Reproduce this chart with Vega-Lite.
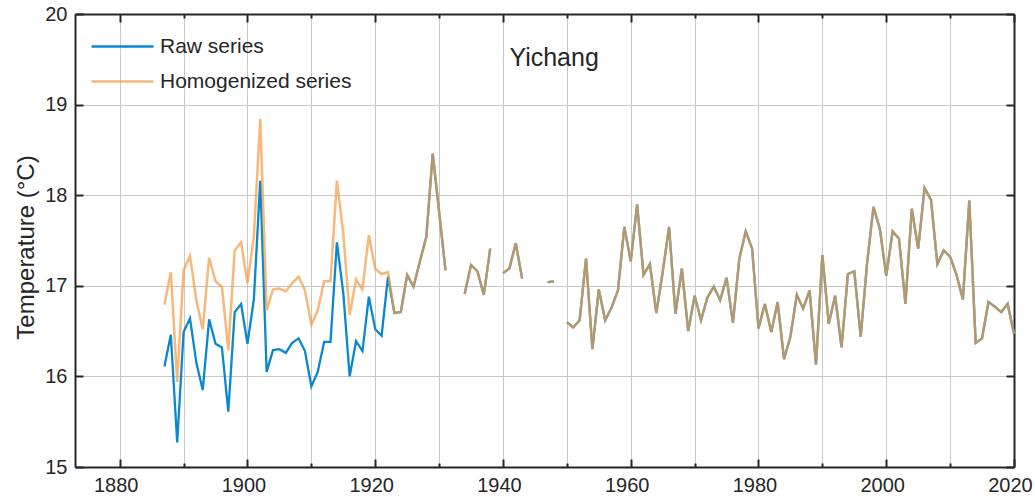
{
  "$schema": "https://vega.github.io/schema/vega-lite/v6.json",
  "width": 939,
  "height": 453,
  "autosize": {"type": "none"},
  "padding": {"left": 75, "top": 14, "right": 21, "bottom": 30},
  "background": "white",
  "config": {
    "font": "Liberation Sans",
    "view": {"stroke": null},
    "axis": {
      "domainColor": "#262626",
      "domainWidth": 2,
      "tickColor": "#262626",
      "tickWidth": 2,
      "gridColor": "#c8c8c8",
      "gridWidth": 1,
      "labelColor": "#262626",
      "labelFontSize": 20,
      "titleColor": "#262626",
      "titleFontWeight": "normal"
    },
    "legend": {
      "orient": "none",
      "legendX": 15,
      "legendY": 17,
      "title": null,
      "padding": 0,
      "symbolType": "stroke",
      "symbolSize": 3844,
      "symbolStrokeWidth": 2.3,
      "labelFontSize": 21,
      "labelColor": "#262626",
      "labelOffset": 5,
      "labelLimit": 400,
      "clipHeight": 31,
      "rowPadding": 4
    }
  },
  "datasets": {
    "annual": [
      {"year": 1887, "raw": 16.11, "homogenized": 16.79},
      {"year": 1888, "raw": 16.46, "homogenized": 17.15},
      {"year": 1889, "raw": 15.27, "homogenized": 15.94},
      {"year": 1890, "raw": 16.49, "homogenized": 17.17},
      {"year": 1891, "raw": 16.64, "homogenized": 17.33},
      {"year": 1892, "raw": 16.15, "homogenized": 16.84},
      {"year": 1893, "raw": 15.85, "homogenized": 16.52},
      {"year": 1894, "raw": 16.63, "homogenized": 17.31},
      {"year": 1895, "raw": 16.36, "homogenized": 17.05},
      {"year": 1896, "raw": 16.32, "homogenized": 16.99},
      {"year": 1897, "raw": 15.61, "homogenized": 16.29},
      {"year": 1898, "raw": 16.71, "homogenized": 17.39},
      {"year": 1899, "raw": 16.80, "homogenized": 17.48},
      {"year": 1900, "raw": 16.36, "homogenized": 17.03},
      {"year": 1901, "raw": 16.85, "homogenized": 17.54},
      {"year": 1902, "raw": 18.16, "homogenized": 18.84},
      {"year": 1903, "raw": 16.05, "homogenized": 16.73},
      {"year": 1904, "raw": 16.29, "homogenized": 16.96},
      {"year": 1905, "raw": 16.30, "homogenized": 16.97},
      {"year": 1906, "raw": 16.26, "homogenized": 16.94},
      {"year": 1907, "raw": 16.37, "homogenized": 17.03},
      {"year": 1908, "raw": 16.42, "homogenized": 17.10},
      {"year": 1909, "raw": 16.28, "homogenized": 16.95},
      {"year": 1910, "raw": 15.89, "homogenized": 16.57},
      {"year": 1911, "raw": 16.05, "homogenized": 16.73},
      {"year": 1912, "raw": 16.38, "homogenized": 17.05},
      {"year": 1913, "raw": 16.38, "homogenized": 17.05},
      {"year": 1914, "raw": 17.48, "homogenized": 18.16},
      {"year": 1915, "raw": 16.92, "homogenized": 17.58},
      {"year": 1916, "raw": 16.00, "homogenized": 16.68},
      {"year": 1917, "raw": 16.39, "homogenized": 17.07},
      {"year": 1918, "raw": 16.28, "homogenized": 16.96},
      {"year": 1919, "raw": 16.88, "homogenized": 17.56},
      {"year": 1920, "raw": 16.52, "homogenized": 17.19},
      {"year": 1921, "raw": 16.45, "homogenized": 17.13},
      {"year": 1922, "raw": 17.10, "homogenized": 17.15},
      {"year": 1923, "raw": 16.70, "homogenized": 16.70},
      {"year": 1924, "raw": 16.71, "homogenized": 16.71},
      {"year": 1925, "raw": 17.12, "homogenized": 17.12},
      {"year": 1926, "raw": 16.99, "homogenized": 16.99},
      {"year": 1927, "raw": 17.27, "homogenized": 17.27},
      {"year": 1928, "raw": 17.54, "homogenized": 17.54},
      {"year": 1929, "raw": 18.46, "homogenized": 18.46},
      {"year": 1930, "raw": 17.82, "homogenized": 17.82},
      {"year": 1931, "raw": 17.17, "homogenized": 17.17},
      {"year": 1932, "raw": null, "homogenized": null},
      {"year": 1933, "raw": null, "homogenized": null},
      {"year": 1934, "raw": 16.91, "homogenized": 16.91},
      {"year": 1935, "raw": 17.23, "homogenized": 17.23},
      {"year": 1936, "raw": 17.16, "homogenized": 17.16},
      {"year": 1937, "raw": 16.90, "homogenized": 16.90},
      {"year": 1938, "raw": 17.41, "homogenized": 17.41},
      {"year": 1939, "raw": null, "homogenized": null},
      {"year": 1940, "raw": 17.14, "homogenized": 17.14},
      {"year": 1941, "raw": 17.19, "homogenized": 17.19},
      {"year": 1942, "raw": 17.47, "homogenized": 17.47},
      {"year": 1943, "raw": 17.08, "homogenized": 17.08},
      {"year": 1944, "raw": null, "homogenized": null},
      {"year": 1945, "raw": null, "homogenized": null},
      {"year": 1946, "raw": null, "homogenized": null},
      {"year": 1947, "raw": 17.04, "homogenized": 17.04},
      {"year": 1948, "raw": 17.05, "homogenized": 17.05},
      {"year": 1949, "raw": null, "homogenized": null},
      {"year": 1950, "raw": 16.60, "homogenized": 16.60},
      {"year": 1951, "raw": 16.54, "homogenized": 16.54},
      {"year": 1952, "raw": 16.62, "homogenized": 16.62},
      {"year": 1953, "raw": 17.30, "homogenized": 17.30},
      {"year": 1954, "raw": 16.30, "homogenized": 16.30},
      {"year": 1955, "raw": 16.96, "homogenized": 16.96},
      {"year": 1956, "raw": 16.62, "homogenized": 16.62},
      {"year": 1957, "raw": 16.76, "homogenized": 16.76},
      {"year": 1958, "raw": 16.95, "homogenized": 16.95},
      {"year": 1959, "raw": 17.65, "homogenized": 17.65},
      {"year": 1960, "raw": 17.27, "homogenized": 17.27},
      {"year": 1961, "raw": 17.90, "homogenized": 17.90},
      {"year": 1962, "raw": 17.12, "homogenized": 17.12},
      {"year": 1963, "raw": 17.24, "homogenized": 17.24},
      {"year": 1964, "raw": 16.70, "homogenized": 16.70},
      {"year": 1965, "raw": 17.15, "homogenized": 17.15},
      {"year": 1966, "raw": 17.65, "homogenized": 17.65},
      {"year": 1967, "raw": 16.69, "homogenized": 16.69},
      {"year": 1968, "raw": 17.19, "homogenized": 17.19},
      {"year": 1969, "raw": 16.50, "homogenized": 16.50},
      {"year": 1970, "raw": 16.89, "homogenized": 16.89},
      {"year": 1971, "raw": 16.62, "homogenized": 16.62},
      {"year": 1972, "raw": 16.87, "homogenized": 16.87},
      {"year": 1973, "raw": 16.99, "homogenized": 16.99},
      {"year": 1974, "raw": 16.84, "homogenized": 16.84},
      {"year": 1975, "raw": 17.09, "homogenized": 17.09},
      {"year": 1976, "raw": 16.59, "homogenized": 16.59},
      {"year": 1977, "raw": 17.30, "homogenized": 17.30},
      {"year": 1978, "raw": 17.60, "homogenized": 17.60},
      {"year": 1979, "raw": 17.41, "homogenized": 17.41},
      {"year": 1980, "raw": 16.53, "homogenized": 16.53},
      {"year": 1981, "raw": 16.80, "homogenized": 16.80},
      {"year": 1982, "raw": 16.49, "homogenized": 16.49},
      {"year": 1983, "raw": 16.82, "homogenized": 16.82},
      {"year": 1984, "raw": 16.19, "homogenized": 16.19},
      {"year": 1985, "raw": 16.44, "homogenized": 16.44},
      {"year": 1986, "raw": 16.90, "homogenized": 16.90},
      {"year": 1987, "raw": 16.75, "homogenized": 16.75},
      {"year": 1988, "raw": 16.95, "homogenized": 16.95},
      {"year": 1989, "raw": 16.13, "homogenized": 16.13},
      {"year": 1990, "raw": 17.34, "homogenized": 17.34},
      {"year": 1991, "raw": 16.58, "homogenized": 16.58},
      {"year": 1992, "raw": 16.89, "homogenized": 16.89},
      {"year": 1993, "raw": 16.32, "homogenized": 16.32},
      {"year": 1994, "raw": 17.13, "homogenized": 17.13},
      {"year": 1995, "raw": 17.16, "homogenized": 17.16},
      {"year": 1996, "raw": 16.44, "homogenized": 16.44},
      {"year": 1997, "raw": 17.25, "homogenized": 17.25},
      {"year": 1998, "raw": 17.87, "homogenized": 17.87},
      {"year": 1999, "raw": 17.63, "homogenized": 17.63},
      {"year": 2000, "raw": 17.11, "homogenized": 17.11},
      {"year": 2001, "raw": 17.60, "homogenized": 17.60},
      {"year": 2002, "raw": 17.52, "homogenized": 17.52},
      {"year": 2003, "raw": 16.80, "homogenized": 16.80},
      {"year": 2004, "raw": 17.85, "homogenized": 17.85},
      {"year": 2005, "raw": 17.41, "homogenized": 17.41},
      {"year": 2006, "raw": 18.08, "homogenized": 18.08},
      {"year": 2007, "raw": 17.95, "homogenized": 17.95},
      {"year": 2008, "raw": 17.24, "homogenized": 17.24},
      {"year": 2009, "raw": 17.39, "homogenized": 17.39},
      {"year": 2010, "raw": 17.32, "homogenized": 17.32},
      {"year": 2011, "raw": 17.12, "homogenized": 17.12},
      {"year": 2012, "raw": 16.85, "homogenized": 16.85},
      {"year": 2013, "raw": 17.94, "homogenized": 17.94},
      {"year": 2014, "raw": 16.37, "homogenized": 16.37},
      {"year": 2015, "raw": 16.42, "homogenized": 16.42},
      {"year": 2016, "raw": 16.82, "homogenized": 16.82},
      {"year": 2017, "raw": 16.77, "homogenized": 16.77},
      {"year": 2018, "raw": 16.71, "homogenized": 16.71},
      {"year": 2019, "raw": 16.80, "homogenized": 16.80},
      {"year": 2020, "raw": 16.47, "homogenized": 16.47}
    ],
    "station": [{"name": "Yichang"}]
  },
  "layer": [
    {
      "data": {"name": "annual"},
      "transform": [
        {"fold": ["raw", "homogenized"], "as": ["series", "temp"]},
        {"filter": "datum.series === 'raw'"}
      ],
      "mark": {"type": "line", "strokeWidth": 2.3},
      "encoding": {
        "x": {
          "field": "year",
          "type": "quantitative",
          "scale": {"domain": [1873, 2020], "nice": false, "zero": false},
          "axis": {
            "orient": "bottom",
            "title": null,
            "values": [1880, 1890, 1900, 1910, 1920, 1930, 1940, 1950, 1960, 1970, 1980, 1990, 2000, 2010, 2020],
            "format": "d",
            "labelExpr": "datum.value % 20 === 0 ? datum.label : ''",
            "tickSize": {"condition": {"test": "datum.value % 20 === 0", "value": -8}, "value": -4},
            "labelPadding": 16,
            "labelOffset": -4,
            "labelFlush": false,
            "grid": true
          }
        },
        "y": {
          "field": "temp",
          "type": "quantitative",
          "scale": {"domain": [15, 20], "nice": false, "zero": false},
          "axis": {
            "orient": "left",
            "title": "Temperature (°C)",
            "titleFontSize": 24,
            "titleX": -37,
            "titleY": 233,
            "titleAngle": -90,
            "titleAlign": "center",
            "titleBaseline": "bottom",
            "values": [15, 16, 17, 18, 19, 20],
            "tickSize": -8,
            "labelPadding": 16,
            "labelFlush": false,
            "grid": true
          }
        },
        "color": {
          "field": "series",
          "type": "nominal",
          "scale": {"domain": ["raw", "homogenized"], "range": ["#0a88cf", "#f29e48"]},
          "legend": {"labelExpr": "datum.label === 'raw' ? 'Raw series' : 'Homogenized series'"}
        },
        "opacity": {
          "field": "series",
          "type": "nominal",
          "scale": {"domain": ["raw", "homogenized"], "range": [1, 0.72]},
          "legend": {"labelExpr": "datum.label === 'raw' ? 'Raw series' : 'Homogenized series'"}
        }
      }
    },
    {
      "data": {"name": "annual"},
      "transform": [
        {"fold": ["raw", "homogenized"], "as": ["series", "temp"]},
        {"filter": "datum.series === 'homogenized'"}
      ],
      "mark": {"type": "line", "strokeWidth": 2.5},
      "encoding": {
        "x": {
          "field": "year",
          "type": "quantitative",
          "axis": {
            "orient": "top",
            "title": null,
            "values": [1880, 1890, 1900, 1910, 1920, 1930, 1940, 1950, 1960, 1970, 1980, 1990, 2000, 2010, 2020],
            "labels": false,
            "grid": false,
            "tickSize": {"condition": {"test": "datum.value % 20 === 0", "value": -8}, "value": -4}
          }
        },
        "y": {
          "field": "temp",
          "type": "quantitative",
          "axis": {
            "orient": "right",
            "title": null,
            "values": [15, 16, 17, 18, 19, 20],
            "labels": false,
            "grid": false,
            "tickSize": -8
          }
        },
        "color": {"field": "series", "type": "nominal"},
        "opacity": {"field": "series", "type": "nominal"}
      }
    },
    {
      "data": {"name": "station"},
      "mark": {"type": "text", "fontSize": 25, "align": "center", "baseline": "alphabetic", "color": "#262626"},
      "encoding": {
        "text": {"field": "name"},
        "x": {"datum": 1948, "type": "quantitative", "axis": null},
        "y": {"datum": 19.43, "type": "quantitative", "axis": null}
      }
    }
  ],
  "resolve": {"axis": {"x": "independent", "y": "independent"}}
}
